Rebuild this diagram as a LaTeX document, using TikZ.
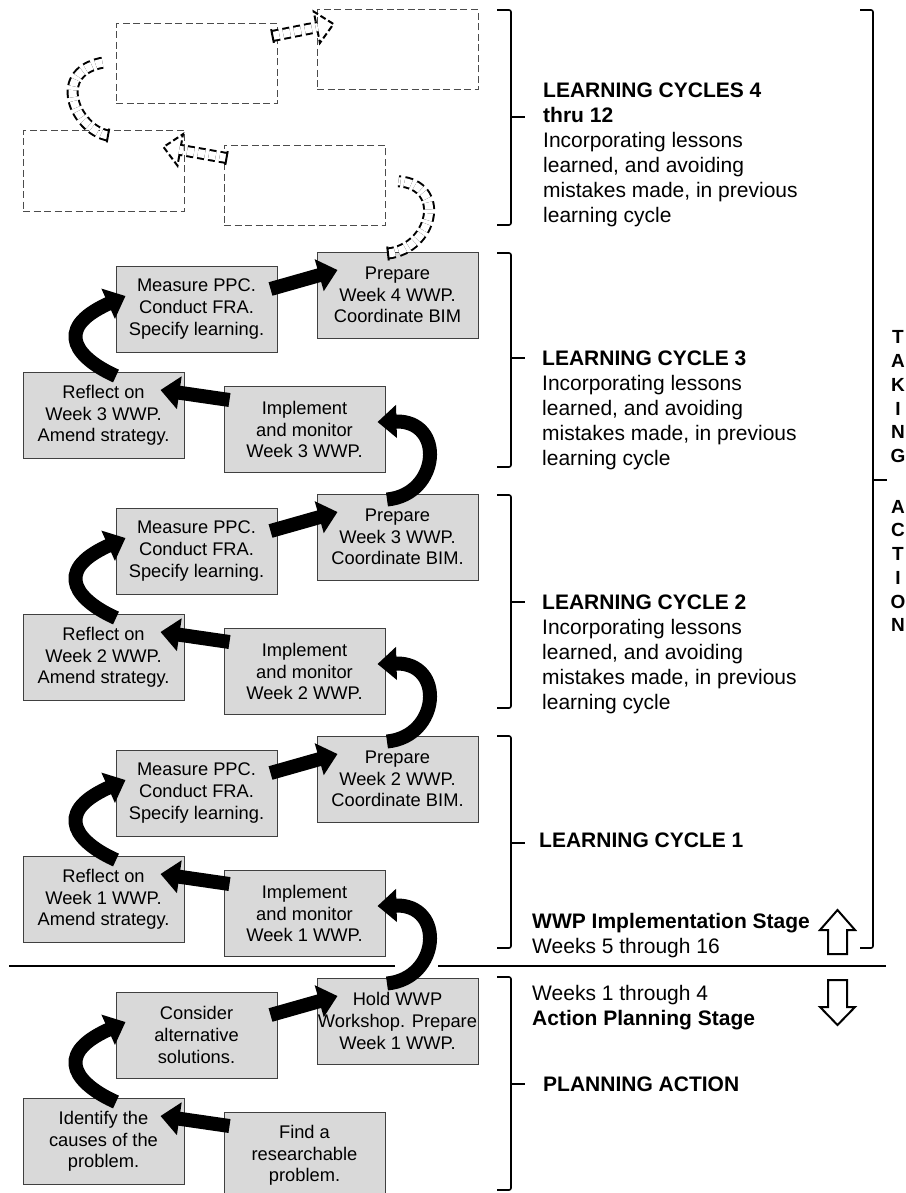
\documentclass[tikz,border=0pt]{standalone}
\usepackage{fontspec}
\setmainfont{Liberation Sans}
\usetikzlibrary{arrows.meta, calc, decorations.markings}

\begin{document}
\begin{tikzpicture}[
    x=1pt, y=-1pt,
    box/.style={draw=black!75, line width=1pt, fill=black!15, minimum width=161pt, minimum height=86pt, inner sep=0pt, align=center, font=\fontsize{18.3}{21.7}\selectfont},
    ghost/.style={draw=black!70, line width=1pt, dash pattern=on 7pt off 3.5pt, minimum width=161pt, minimum height=80pt},
    flow/.style={line width=14pt, -{Triangle[length=19pt 0 0, width=32pt 0 0]}},
    ghostflow/.style={
        postaction={draw, line width=12pt, dash pattern=on 7pt off 4pt, shorten >=16pt},
        postaction={draw=white, line width=8pt, dash pattern=on 7pt off 4pt, shorten >=16pt},
        postaction={decorate, decoration={markings,
            mark=at position 0 with {\draw[line width=2pt] (0,-7) -- (0,7);},
            mark=at position 1 with {\draw[line width=2pt, dash pattern=on 6pt off 3pt] (-17,-6) -- (-17,-16) -- (0,0) -- (-17,16) -- (-17,6);}}}},
    bracket/.style={line width=1.6pt, rounded corners=2pt},
    note/.style={anchor=north west, inner sep=0pt, align=left, font=\fontsize{21}{25}\selectfont},
    heading/.style={anchor=west, inner sep=0pt, font=\fontsize{21}{25}\selectfont\bfseries}
]
\useasboundingbox (0,0) rectangle (905,1193);

% Learning cycles 4 thru 12 (outline only)
\node[ghost] (g1) at (196.5,64) {};
\node[ghost] (g2) at (397.5,50) {};
\node[ghost] (g3) at (103.5,171) {};
\node[ghost] (g4) at (304.5,185.5) {};

% Learning cycle 3
\node[box] (meas3) at (196.5,309) {Measure PPC.\\Conduct FRA.\\Specify learning.};
\node[box] (prep4) at (397.5,295) {Prepare\\Week 4 WWP.\\Coordinate BIM};
\node[box] (refl3) at (103.5,415.5) {Reflect on\\Week 3 WWP.\\Amend strategy.};
\node[box] (impl3) at (304.5,429.5) {Implement\\and monitor\\Week 3 WWP.};

% Learning cycle 2
\node[box] (meas2) at (196.5,551) {Measure PPC.\\Conduct FRA.\\Specify learning.};
\node[box] (prep3) at (397.5,537) {Prepare\\Week 3 WWP.\\Coordinate BIM.};
\node[box] (refl2) at (103.5,657.5) {Reflect on\\Week 2 WWP.\\Amend strategy.};
\node[box] (impl2) at (304.5,671.5) {Implement\\and monitor\\Week 2 WWP.};

% Learning cycle 1
\node[box] (meas1) at (196.5,793) {Measure PPC.\\Conduct FRA.\\Specify learning.};
\node[box] (prep2) at (397.5,779) {Prepare\\Week 2 WWP.\\Coordinate BIM.};
\node[box] (refl1) at (103.5,899.5) {Reflect on\\Week 1 WWP.\\Amend strategy.};
\node[box] (impl1) at (304.5,913.5) {Implement\\and monitor\\Week 1 WWP.};

% Planning action
\node[box] (cons) at (196.5,1035) {Consider\\alternative\\solutions.};
\node[box] (hold) at (397.5,1021) {Hold WWP\\Workshop. Prepare\\Week 1 WWP.};
\node[box] (iden) at (103.5,1141.5) {Identify the\\causes of the\\problem.};
\node[box] (find) at (304.5,1155.5) {Find a\\researchable\\problem.};

% Stage divider
\draw[line width=1.8pt] (9,966) -- (395,966);
\draw[line width=1.8pt] (438,966) -- (886,966);

% Dashed arrows
\path[ghostflow] ($(g1.east)+(-5,-28)$) -- ($(g2.west)+(17,-26)$);
\path[ghostflow] ($(g4.west)+(3,-27.5)$) -- ($(g3.east)+(-21,-24)$);
\path[ghostflow] ($(g3.north)+(4.5,5)$) .. controls +(-33,-6) and +(-72,10) .. ($(g1.west)+(6,-4)$);
\path[ghostflow] ($(prep4.north)+(-9.5,2)$) .. controls +(45,-5) and +(65,5) .. ($(g4.east)+(-3,-5.5)$);

% Cycle 3 arrows
\draw[flow] ($(meas3.east)+(-7,-20)$) -- ($(prep4.west)+(21,-25)$);
\draw[flow] ($(impl3.west)+(6,-29.5)$) -- ($(refl3.east)+(-24,-25.5)$);
\draw[flow] ($(refl3.north)+(12.5,4)$) .. controls +(-36,-16) and +(-76,34) .. ($(meas3.west)+(10,-13)$);
\draw[flow] ($(prep3.north)+(-10.5,6)$) .. controls +(53,-5) and +(68,-2) .. ($(impl3.east)+(-8,-7.5)$);

% Cycle 2 arrows
\draw[flow] ($(meas2.east)+(-7,-20)$) -- ($(prep3.west)+(21,-25)$);
\draw[flow] ($(impl2.west)+(6,-29.5)$) -- ($(refl2.east)+(-24,-25.5)$);
\draw[flow] ($(refl2.north)+(12.5,4)$) .. controls +(-36,-16) and +(-76,34) .. ($(meas2.west)+(10,-13)$);
\draw[flow] ($(prep2.north)+(-10.5,6)$) .. controls +(53,-5) and +(68,-2) .. ($(impl2.east)+(-8,-7.5)$);

% Cycle 1 arrows
\draw[flow] ($(meas1.east)+(-7,-20)$) -- ($(prep2.west)+(21,-25)$);
\draw[flow] ($(impl1.west)+(6,-29.5)$) -- ($(refl1.east)+(-24,-25.5)$);
\draw[flow] ($(refl1.north)+(12.5,4)$) .. controls +(-36,-16) and +(-76,34) .. ($(meas1.west)+(10,-13)$);
\draw[flow] ($(hold.north)+(-10.5,6)$) .. controls +(53,-5) and +(68,-2) .. ($(impl1.east)+(-8,-7.5)$);

% Planning arrows
\draw[flow] ($(cons.east)+(-7,-20)$) -- ($(hold.west)+(21,-25)$);
\draw[flow] ($(find.west)+(6,-29.5)$) -- ($(iden.east)+(-24,-25.5)$);
\draw[flow] ($(iden.north)+(12.5,4)$) .. controls +(-36,-16) and +(-76,34) .. ($(cons.west)+(10,-13)$);

% Brackets
\draw[bracket] (497,10) -- (511,10) -- (511,225) -- (497,225);
\draw[bracket] (511,117) -- (525,117);
\draw[bracket] (497,253) -- (511,253) -- (511,467) -- (497,467);
\draw[bracket] (511,358) -- (525,358);
\draw[bracket] (497,495) -- (511,495) -- (511,708) -- (497,708);
\draw[bracket] (511,602) -- (525,602);
\draw[bracket] (497,736) -- (511,736) -- (511,948) -- (497,948);
\draw[bracket] (511,843) -- (525,843);
\draw[bracket] (497,977) -- (511,977) -- (511,1190) -- (497,1190);
\draw[bracket] (511,1084) -- (525,1084);
\draw[bracket] (860,10) -- (873,10) -- (873,948) -- (860,948);
\draw[bracket] (873,480) -- (887,480);

% Cycle labels
\node[note] (t4) at (543,82.5) {\textbf{LEARNING CYCLES 4}\\\textbf{thru 12}\\Incorporating lessons\\learned, and avoiding\\mistakes made, in previous\\learning cycle};
\node[note] (t3) at (542,350.5) {\textbf{LEARNING CYCLE 3}\\Incorporating lessons\\learned, and avoiding\\mistakes made, in previous\\learning cycle};
\node[note] (t2) at (542,594.5) {\textbf{LEARNING CYCLE 2}\\Incorporating lessons\\learned, and avoiding\\mistakes made, in previous\\learning cycle};
\node[heading] (t1) at (539,840) {LEARNING CYCLE 1};
\node[note] (stage) at (532,913.5) {\textbf{WWP Implementation Stage}\\Weeks 5 through 16};
\node[note] (plan) at (532,985.5) {Weeks 1 through 4\\\textbf{Action Planning Stage}};
\node[heading] (tp) at (543,1084) {PLANNING ACTION};

% Taking action
\node[anchor=north, inner sep=0pt, align=center, font=\fontsize{19}{23.8}\selectfont\bfseries] (taking) at (898,330.5) {T\\A\\K\\I\\N\\G};
\node[anchor=north, inner sep=0pt, align=center, font=\fontsize{19}{23.7}\selectfont\bfseries] (action) at (898,500) {A\\C\\T\\I\\O\\N};

% Stage arrows
\draw[line width=2pt] (828,954) -- (828,930) -- (820,930) -- (837.5,910) -- (855,930) -- (847,930) -- (847,954) -- cycle;
\draw[line width=2pt] (828,980) -- (847,980) -- (847,1007) -- (855,1007) -- (837.5,1025) -- (820,1007) -- (828,1007) -- cycle;

\end{tikzpicture}
\end{document}
